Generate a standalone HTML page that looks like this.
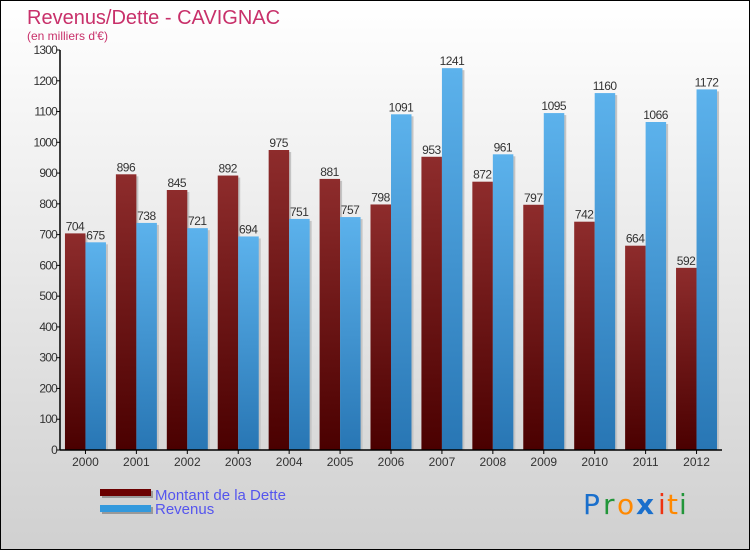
<!DOCTYPE html>
<html><head><meta charset="utf-8"><style>
html,body{margin:0;padding:0}
body{width:750px;height:550px;overflow:hidden;font-family:"Liberation Sans",sans-serif}
</style></head><body>
<svg width="750" height="550" xmlns="http://www.w3.org/2000/svg">
<defs>
<linearGradient id="bg" x1="0" y1="0" x2="0" y2="1"><stop offset="0" stop-color="#ffffff"/><stop offset="1" stop-color="#d0d0d0"/></linearGradient>
<linearGradient id="gd" x1="0" y1="0" x2="0" y2="1"><stop offset="0" stop-color="#8e2c2c"/><stop offset="1" stop-color="#4a0000"/></linearGradient>
<linearGradient id="gr" x1="0" y1="0" x2="0" y2="1"><stop offset="0" stop-color="#5cb2ec"/><stop offset="1" stop-color="#2876b4"/></linearGradient>
</defs>
<rect x="0.5" y="0.5" width="749" height="549" fill="url(#bg)" stroke="#000"/>
<text x="27" y="24" font-size="20" fill="#c8306a">Revenus/Dette - CAVIGNAC</text>
<text x="27" y="40" font-size="12" fill="#c8306a">(en milliers d'€)</text>
<g id="plot"></g>
<g>
<rect x="102" y="491" width="51" height="7" fill="#999"/>
<rect x="100" y="489" width="51" height="7" fill="#6b0000"/>
<text x="155" y="500" font-size="15" fill="#5555ee">Montant de la Dette</text>
<rect x="102" y="507" width="51" height="7" fill="#999"/>
<rect x="100" y="505" width="51" height="7" fill="#3399dd"/>
<text x="155" y="514" font-size="15" fill="#5555ee">Revenus</text>
</g>
<g font-size="28" font-family="'DejaVu Sans',sans-serif">
<text x="583" y="514" fill="#1a6fcc">P</text><text x="603" y="514" fill="#22963a">r</text><text x="617" y="514" fill="#ff8800">o</text><text x="636" y="514" fill="#1a6fcc" font-weight="bold">x</text><text x="658" y="514" fill="#ee3311">i</text><text x="667" y="514" fill="#ff8800">t</text><text x="679" y="514" fill="#22963a">i</text>
</g>
</svg>
<script>
const categories=["2000","2001","2002","2003","2004","2005","2006","2007","2008","2009","2010","2011","2012"];
const dette=[704,896,845,892,975,881,798,953,872,797,742,664,592];
const revenus=[675,738,721,694,751,757,1091,1241,961,1095,1160,1066,1172];
const yTicks=[0,100,200,300,400,500,600,700,800,900,1000,1100,1200,1300];
const NS="http://www.w3.org/2000/svg";
const g=document.getElementById('plot');
const x0=60,x1=722,y0=450,yTop=50,yMax=1300;
const step=(x1-x0)/categories.length;
function y(v){return y0-(v/yMax)*(y0-yTop);}
function xc(i){return x0+step*(i+0.5);}
function mk(t,a,p){const e=document.createElementNS(NS,t);for(const k in a)e.setAttribute(k,a[k]);(p||g).appendChild(e);return e;}
categories.forEach((c,i)=>{
  const cx=xc(i);
  [[dette[i],cx-20.5,'url(#gd)','bar-dette-'+c],[revenus[i],cx,'url(#gr)','bar-revenus-'+c]].forEach(([v,bx,f,n])=>{
    const sh=mk('rect',{x:bx+2,y:y(v)+2,width:20.5,height:y0-y(v)-2,fill:'#c4c4c4'});
    
    
    const r=mk('rect',{x:bx,y:y(v),width:20.5,height:y0-y(v),fill:f});
    
    
    const t=mk('text',{x:bx+10,y:y(v)-3,'font-size':12,fill:'#333','text-anchor':'middle','letter-spacing':'-0.5'});
    t.textContent=v;
    
    
  });
  const tk=mk('line',{x1:cx,x2:cx,y1:y0,y2:y0+4,stroke:'#000'});
  
  
  const l=mk('text',{x:cx,y:y0+16,'font-size':12,fill:'#333','text-anchor':'middle'});
  l.textContent=c;
  
  
});
yTicks.forEach(v=>{
  const tk=mk('line',{x1:x0-4,x2:x0,y1:y(v),y2:y(v),stroke:'#000'});
  
  
  const l=mk('text',{x:x0-3,y:y(v)+4,'font-size':12,fill:'#333','text-anchor':'end','letter-spacing':'-0.8'});
  l.textContent=v;
  
  
});
const ya=mk('line',{x1:x0,x2:x0,y1:yTop,y2:y0,stroke:'#000','stroke-width':1.5});


const xa=mk('line',{x1:x0,x2:x1,y1:y0,y2:y0,stroke:'#000','stroke-width':1.5});


</script>
</body></html>
